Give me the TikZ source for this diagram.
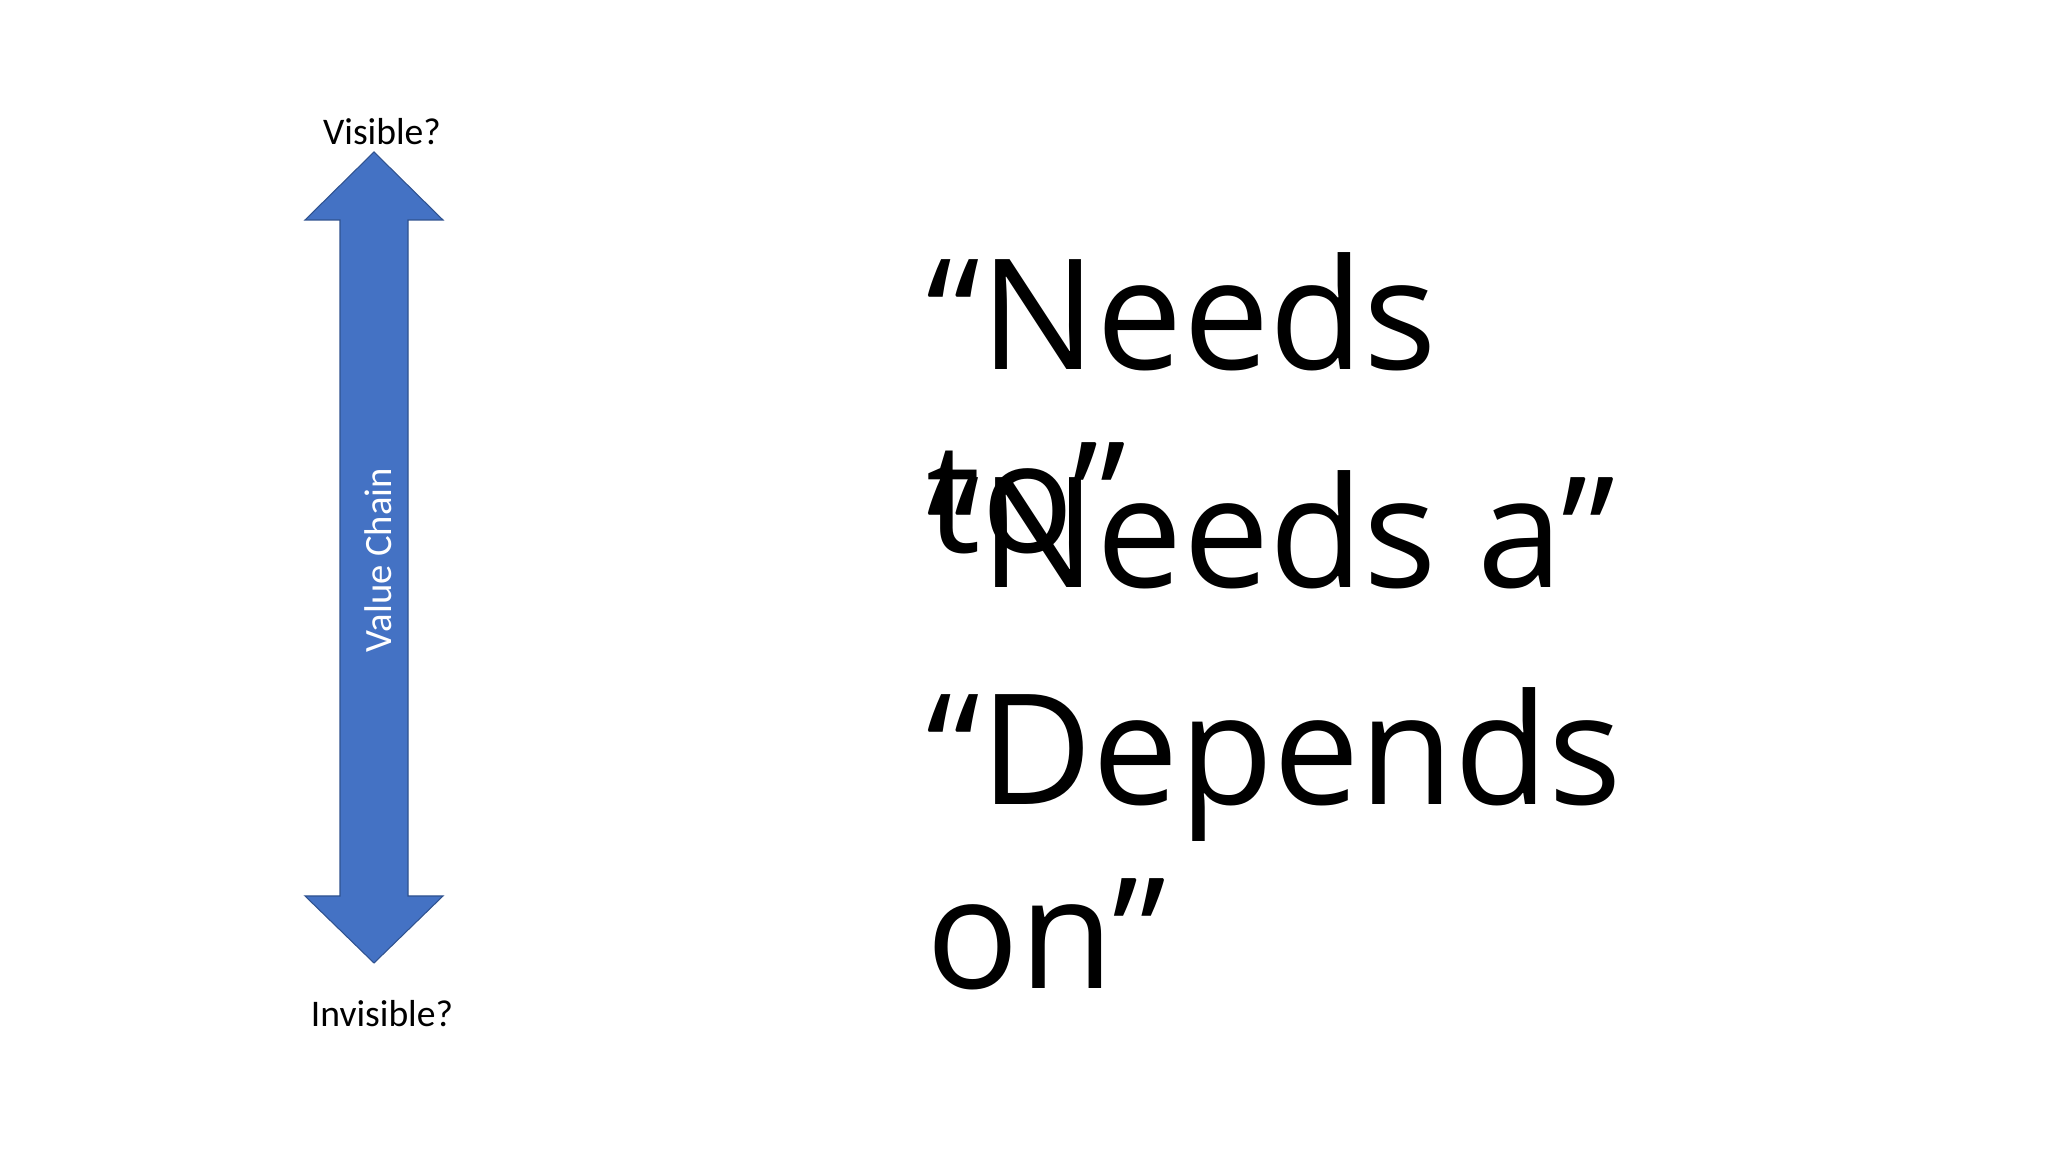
\documentclass[tikz,border=0pt]{standalone}
\usepackage{fontspec}
\setmainfont{Carlito}
\newfontfamily\quotefont{Open Sans}
\usetikzlibrary{calc}
\definecolor{chainblue}{HTML}{4472C4}
\definecolor{chainedge}{HTML}{2F528F}

\begin{document}
\begin{tikzpicture}[x=0.1mm, y=-0.1mm]

\tikzstyle{smalllabel}=[inner sep=0, font=\fontsize{10.7}{12}\selectfont]
\tikzstyle{chainlabel}=[inner sep=0, text=white, font=\fontsize{11}{13}\selectfont]
\tikzstyle{bigtext}=[inner sep=0, anchor=base west, font=\quotefont\fontsize{43.8}{52}\selectfont]
\tikzstyle{chain}=[fill=chainblue, draw=chainedge, line width=0.3pt]

\useasboundingbox (0,0) rectangle (2048,1152);

% value chain arrow
\draw [chain] (374,152) -- (443,220) -- (408,220) -- (408,896) -- (443,896)
  -- (374,963) -- (305,896) -- (340,896) -- (340,220) -- (305,220) -- cycle;

\node [smalllabel, anchor=base] (visible) at (382,145) {Visible?};
\node [smalllabel, anchor=base] (invisible) at (382,1027) {Invisible?};
\node [chainlabel, rotate=90] (chain-name) at (378,560) {Value Chain};

% phrases
\node [bigtext] (needs-to-1) at (926,370) {“Needs};
\node [bigtext] (needs-to-2) at ($(needs-to-1.base west) + (0,183)$) {to”};
\node [bigtext] (needs-a) at ($(needs-to-1.base west) + (0,218)$) {“Needs a”};
\node [bigtext] (depends-1) at ($(needs-a.base west) + (0,217)$) {“Depends};
\node [bigtext] (depends-2) at ($(depends-1.base west) + (0,184)$) {on”};

\end{tikzpicture}
\end{document}
